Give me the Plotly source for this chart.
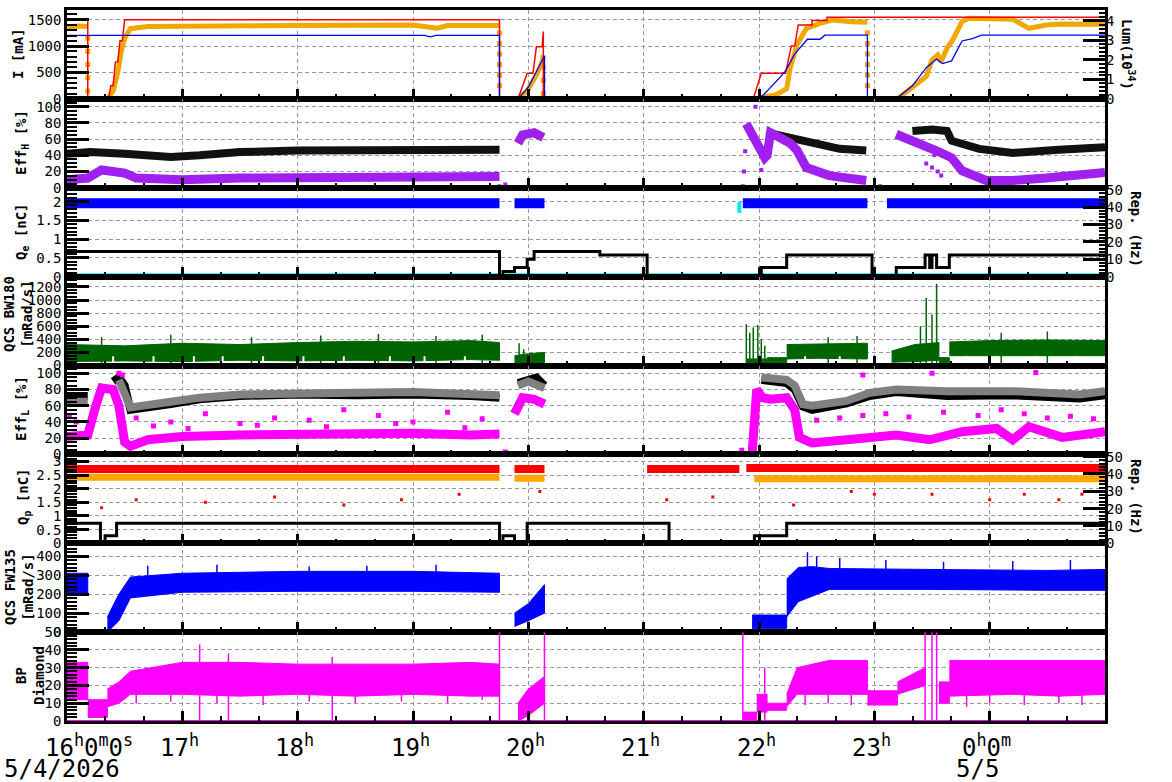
import plotly.graph_objects as go

FONT = "DejaVu Sans Mono"

# ---------------- data (time in hours since 0:00 of 5/4/2026; 24+ = 5/5) ----------------
# Panel 1: currents [mA] (red, orange) and luminosity [1e34] (blue)
ler_t = [16.00, 16.18, 16.18, 16.36, 16.38, 16.40, 16.42, 16.44, 16.46, 16.48, 16.50, 19.75, 19.75,
         19.91, 19.96, 19.99, 20.04, 20.07, 20.12, 20.13, 20.13, 21.95, 22.02, 22.23, 22.28, 22.31,
         22.34, 22.46, 22.46, 22.59, 22.59, 25.00]
ler_v = [1500, 1500, 0, 0, 250, 250, 700, 700, 1100, 1100, 1500, 1500, 0,
         0, 300, 485, 485, 990, 990, 1275, 0, 0, 484, 484, 1003, 1003,
         1401, 1401, 1483, 1483, 1545, 1545]
her_t = [16.00, 16.10, 16.18, None, 16.35, 16.40, 16.44, 16.47, 16.50, 16.55, 16.70, 17.00, 18.00, 19.00,
         19.15, 19.21, 19.30, 19.75, None, 19.91, 19.99, 20.07, 20.12, 20.13, None,
         21.96, 22.15, 22.24, 22.27, 22.33, 22.41, 22.53, 22.64, 22.80, 22.94, None,
         23.20, 23.33, 23.45, 23.50, 23.55, 23.58, 23.63, 23.68, 23.76, 23.82, 24.20, 24.34, 24.49,
         24.63, 25.00]
her_v = [1360, 1380, 1370, None, 0, 150, 500, 900, 1150, 1330, 1370, 1380, 1390, 1400,
         1370, 1340, 1390, 1390, None, 0, 150, 450, 700, 830, None,
         0, 80, 195, 580, 1027, 1337, 1432, 1496, 1460, 1450, None,
         0, 231, 422, 738, 833, 706, 958, 1117, 1464, 1527, 1510, 1337, 1401,
         1420, 1413]
her_drop_t = [16.18, 16.18, 16.18, 16.18, 16.18, 19.75, 19.75, 19.75, 19.75, 19.75, 19.75,
              20.13, 20.13, 20.13, 22.94, 22.94, 22.94, 22.94, 22.94, 22.94]
her_drop_v = [1150, 900, 650, 400, 150, 1250, 1050, 850, 650, 450, 250,
              600, 350, 100, 1250, 1050, 850, 650, 450, 250]
lum_t = [16.00, 19.10, 19.15, 19.20, 19.75, 19.75, 19.91, 20.00, 20.14, 20.14, 21.96, 22.03, 22.18,
         22.23, 22.31, 22.42, 22.53, 22.57, 22.94, 22.94, 23.19, 23.33, 23.45, 23.54, 23.59, 23.67,
         23.76, 23.85, 23.93, 25.00]
lum_v = [3.26, 3.26, 3.18, 3.26, 3.26, 0, 0, 0.6, 2.2, 0, 0, 0.15, 1.09,
         1.44, 2.31, 3.06, 3.06, 3.27, 3.27, 0, 0, 0.67, 1.60, 2.04, 1.81, 1.95,
         2.97, 3.09, 3.27, 3.27]

# Panel 2: Eff_H [%]
effh_k_t = [16.00, 16.20, 16.50, 16.90, 17.15, 17.50, 18.00, 18.50, 19.00, 19.50, 19.75, None,
            22.07, 22.27, 22.46, 22.70, 22.93, None,
            23.33, 23.50, 23.63, 23.67, 23.91, 24.20, 24.60, 25.00]
effh_k_v = [42, 44, 42, 38, 40, 44, 46, 46, 47, 47, 47, None,
            68, 62, 54, 48, 46, None,
            70, 72, 70, 58, 48, 43, 47, 50]
effh_p_t = [16.00, 16.18, 16.30, 16.50, 16.60, 17.00, 17.50, 18.00, 18.50, 19.00, 19.50, 19.75, None,
            19.91, 19.95, 20.05, 20.13, None,
            21.89, 21.98, 22.05, 22.07, 22.10, 22.27, 22.33, 22.41, 22.61, 22.93, None,
            23.19, 23.33, 23.50, 23.55, 23.67, 23.76, 23.97, 24.20, 24.49, 25.00]
effh_p_v = [10, 12, 22, 18, 12, 10, 12, 12, 13, 14, 14, 14, None,
            55, 65, 68, 62, None,
            79, 55, 37, 40, 68, 55, 46, 25, 15, 9, None,
            66, 58, 50, 45, 37, 21, 9, 9, 12, 19]
effh_ps_t = [19.75, 19.80, 21.86, 21.87, 21.88, 22.02, 23.05, 23.45, 23.50, 23.52, 23.55, 23.58, 21.97]
effh_ps_v = [2, 4, 2, 20, 45, 22, 2, 30, 25, 40, 20, 15, 100]

# Panel 3: Q_e [nC] (blue), repetition [Hz] (black), Q_e 2nd bunch (cyan)
qe_t = [16.00, 19.75, None, 19.88, 20.14, None, 21.86, 22.94, None, 23.11, 25.00]
qe_v = [1.96, 1.96, None, 1.96, 1.96, None, 1.96, 1.96, None, 1.96, 1.96]
repe_t = [16.00, 19.75, 19.75, 19.78, 19.78, 19.88, 19.88, 19.99, 19.99, 20.05, 20.05, 20.62, 20.62,
          21.03, 21.03, 22.02, 22.02, 22.24, 22.24, 22.98, 22.98, 23.19, 23.19, 23.44, 23.44, 23.48,
          23.48, 23.50, 23.50, 23.54, 23.54, 23.65, 23.65, 25.00]
repe_v = [14.5, 14.5, 0, 0, 3, 3, 5.3, 5.3, 10, 10, 14.5, 14.5, 12.5,
          12.5, 0, 0, 5.3, 5.3, 12.5, 12.5, 0, 0, 5.3, 5.3, 12.5, 12.5,
          5.3, 5.3, 12.5, 12.5, 5.3, 5.3, 12.5, 12.5]
qe2_t = [16.00, 25.00, None, 21.83, 21.83]
qe2_v = [0.04, 0.04, None, 1.70, 2.00]

# Panel 4: QCS BW180 [mRad/s] envelope
bw_t = [16.00, 16.50, 17.00, 17.50, 18.00, 18.50, 19.00, 19.50, 19.75, None,
        19.88, 20.00, 20.14, None,
        21.89, 22.07, None, 22.07, 22.24, None, 22.24, 22.50, 22.94, None,
        23.15, 23.35, 23.56, None, 23.56, 23.65, None, 23.65, 24.00, 24.50, 25.00]
bw_lo = [60, 70, 60, 80, 70, 80, 70, 90, 80, None,
         20, 30, 40, None,
         0, 0, None, 20, 20, None, 100, 110, 100, None,
         50, 60, 80, None, 20, 20, None, 150, 160, 150, 150]
bw_hi = [320, 300, 340, 320, 350, 370, 360, 380, 350, None,
         150, 180, 200, None,
         100, 100, None, 120, 120, None, 320, 330, 340, None,
         220, 320, 350, None, 120, 120, None, 360, 380, 390, 380]
bw_spk_t = [16.30, 16.90, 17.60, 18.20, 18.70, 19.20, 19.60, 19.92, 19.96, 21.89, 21.92, 21.95,
            21.99, 22.02, 22.05, 22.60, 22.85, 23.40, 23.45, 23.50, 23.54, 24.10, 24.50]
bw_spk_v = [430, 470, 430, 460, 480, 450, 470, 340, 250, 630, 500, 580,
            620, 400, 300, 430, 450, 600, 1030, 780, 1250, 500, 520]
bw_dip_t = [16.40, 16.75, 17.10, 17.35, 17.70, 18.05, 18.40, 18.80, 19.10, 19.45,
            22.40, 22.70, 23.80, 24.05, 24.40, 24.75]
bw_dip_v = [0, 0, 0, 0, 0, 0, 0, 0, 0, 0, 0, 0, 0, 0, 0, 0]

# Panel 5: Eff_L [%]
effl_k_t = [16.00, 16.18, None, 16.40, 16.45, 16.50, 16.55, 16.90, 17.15, 17.50, 18.00, 18.50, 19.00,
            19.50, 19.75, None, 19.91, 19.99, 20.07, 20.14, None,
            22.02, 22.24, 22.31, 22.38, 22.46, 22.76, 22.96, 23.19, 23.63, 24.20, 24.78, 25.00]
effl_k_v = [72, 72, None, 90, 95, 85, 55, 62, 68, 72, 74, 73, 74,
            72, 70, None, 88, 92, 95, 85, None,
            92, 88, 80, 59, 55, 63, 72, 77, 72, 73, 69, 73]
effl_g_t = [16.00, 16.18, None, 16.45, 16.55, 16.90, 17.15, 17.50, 18.00, 18.50, 19.00, 19.50, 19.75,
            None, 19.91, 20.00, 20.14, None,
            22.02, 22.24, 22.31, 22.38, 22.46, 22.76, 22.96, 23.19, 23.63, 24.20, 24.78, 25.00]
effl_g_v = [65, 65, None, 92, 58, 65, 70, 74, 76, 76, 77, 75, 73,
            None, 85, 90, 82, None,
            95, 92, 85, 62, 60, 66, 76, 80, 78, 78, 74, 78]
effl_m_t = [16.00, 16.18, 16.25, 16.30, 16.40, 16.45, 16.50, 16.55, 16.70, 17.00, 17.50, 18.00, 18.50,
            19.00, 19.50, 19.75, None, 19.88, 19.95, 20.05, 20.14, None,
            21.94, 21.98, 22.03, 22.10, 22.24, 22.31, 22.35, 22.46, 22.76, 22.98, 23.19, 23.48, 23.76,
            24.06, 24.20, 24.34, 24.63, 25.00]
effl_m_v = [22, 24, 60, 82, 80, 60, 15, 10, 18, 22, 24, 25, 25,
            26, 24, 25, None, 50, 70, 68, 62, None,
            0, 80, 70, 68, 70, 55, 21, 14, 18, 20, 24, 18, 28,
            32, 18, 34, 21, 28]
effl_ms_t = [16.02, 16.08, 16.45, 16.48, 16.60, 16.90, 17.20, 17.50, 17.80, 18.10, 18.40, 18.70, 19.00,
             19.30, 19.60, 22.50, 22.70, 22.90, 23.10, 23.30, 23.60, 23.90, 24.10, 24.30, 24.50, 24.70,
             24.90, 22.90, 23.50, 24.40, 21.85, 19.80, 21.98, 16.75, 17.05, 17.65, 18.25, 18.85, 19.45]
effl_ms_v = [48, 40, 100, 98, 45, 40, 50, 38, 45, 42, 55, 48, 40,
             52, 44, 42, 45, 48, 50, 46, 52, 48, 55, 50, 45, 47,
             44, 98, 100, 101, 5, 3, 40, 35, 32, 36, 34, 38, 33]
effl_m0_t = [22.05, 25.00]
effl_m0_v = [0.4, 0.4]

# Panel 6: Q_p [nC] (red, orange), repetition [Hz] (black)
qpr_t = [16.00, 19.75, None, 19.88, 20.14, None, 21.03, 21.83, None, 21.89, 25.00]
qpr_v = [2.72, 2.72, None, 2.72, 2.72, None, 2.72, 2.72, None, 2.76, 2.76]
qpo_t = [16.00, 19.75, None, 19.88, 20.14, None, 21.96, 25.00]
qpo_v = [2.42, 2.42, None, 2.38, 2.38, None, 2.37, 2.37]
qpo0_t = [16.00, 25.00]
qpo0_v = [0.03, 0.03]
qps_t = [16.30, 16.60, 17.20, 17.80, 18.40, 18.90, 19.40, 20.10, 21.20, 21.60, 22.30, 22.80, 23.00,
         23.50, 24.00, 24.30, 24.60, 24.80]
qps_v = [1.30, 1.60, 1.50, 1.70, 1.40, 1.60, 1.80, 1.90, 1.60, 1.70, 1.40, 1.90, 1.80,
         1.80, 1.60, 1.80, 1.60, 1.80]
repp_t = [16.00, 16.29, 16.29, 16.33, 16.33, 16.43, 16.43, 19.75, 19.75, 19.78, 19.78, 19.88, 19.88,
          19.99, 19.99, 21.22, 21.22, 21.96, 21.96, 22.24, 22.24, 25.00]
repp_v = [11.6, 11.6, 0, 0, 4.4, 4.4, 11.6, 11.6, 0, 0, 4.4, 4.4, 0,
          0, 11.6, 11.6, 0, 0, 4.4, 4.4, 11.6, 11.6]

# Panel 7: QCS FW135 [mRad/s] envelope
fw_t = [16.00, 16.18, None, 16.35, 16.45, 16.55, 17.00, 18.00, 19.00, 19.75, None,
        19.88, 20.00, 20.14, None, 21.94, 22.24, None, 22.24, 22.34, 22.46, 22.61, 23.50, 24.50, 25.00]
fw_lo = [200, 200, None, 0, 60, 180, 210, 215, 215, 210, None,
         30, 60, 100, None, 20, 20, None, 80, 160, 190, 225, 225, 220, 220]
fw_hi = [310, 310, None, 80, 200, 290, 310, 320, 320, 310, None,
         100, 150, 250, None, 90, 90, None, 280, 340, 345, 335, 330, 325, 330]
fw_spk_t = [16.70, 17.30, 18.10, 18.60, 19.20, 22.42, 22.50, 22.70, 23.10, 23.60, 24.20, 24.70]
fw_spk_v = [350, 355, 345, 350, 355, 420, 400, 390, 380, 370, 375, 380]
fw0_t = [16.00, 25.00]
fw0_v = [0, 0]

# Panel 8: BP Diamond envelope
bp_t = [16.00, 16.18, None, 16.18, 16.35, None, 16.35, 16.45, 16.55, 17.00, 17.50, 18.00, 18.50,
        19.00, 19.50, 19.75, None, 19.91, 20.00, 20.14, None, 21.86, 21.98, None, 21.98, 22.07,
        None, 22.07, 22.24, None, 22.24, 22.33, 22.60, 22.94, None, 22.94, 23.20, None,
        23.20, 23.44, None, 23.56, 23.65, None, 23.65, 24.20, 24.60, 25.00]
bp_lo = [12, 12, None, 2, 2, None, 8, 10, 15, 15, 14, 15, 14,
         15, 14, 14, None, 0, 3, 10, None, 0, 0, None, 5, 5,
         None, 6, 6, None, 8, 15, 15, 15, None, 9, 9, None,
         15, 20, None, 10, 10, None, 14, 15, 14, 15]
bp_hi = [33, 33, None, 12, 12, None, 18, 22, 28, 33, 33, 32, 32,
         32, 33, 32, None, 10, 18, 25, None, 5, 5, None, 15, 15,
         None, 10, 10, None, 15, 30, 34, 34, None, 17, 17, None,
         22, 30, None, 22, 22, None, 34, 34, 34, 34]
bp_spk_t = [17.15, 17.40, 18.30, 19.75, 20.14, 21.86, 22.05, 23.44, 23.50, 23.54]
bp_spk_v = [43, 38, 36, 50, 50, 50, 30, 50, 50, 50]
bp_dip_t = [16.60, 16.90, 17.30, 17.70, 18.10, 18.50, 18.90, 19.30, 19.60,
            22.40, 22.60, 22.80, 23.80, 24.00, 24.30, 24.60, 24.80]
bp_dip_v = [10, 11, 10, 9, 11, 10, 11, 10, 12, 9, 10, 9, 8, 10, 9, 10, 9]
bp0_t = [16.00, 25.00]
bp0_v = [0, 0]

# axis ticks
hour_ticks = [16, 17, 18, 19, 20, 21, 22, 23, 24]
hour_labels = ["16<sup>h</sup>0<sup>m</sup>0<sup>s</sup>", "17<sup>h</sup>", "18<sup>h</sup>",
               "19<sup>h</sup>", "20<sup>h</sup>", "21<sup>h</sup>", "22<sup>h</sup>",
               "23<sup>h</sup>", "0<sup>h</sup>0<sup>m</sup>"]
date_labels = [(16, "5/4/2026"), (24, "5/5")]

# ---------------- figure ----------------
fig = go.Figure()
N = 8


def ax(i):
    return ("x" if i == 1 else f"x{i}"), ("y" if i == 1 else f"y{i}")


def line(x, y, color, width, i, yref=None, dash=None):
    xa, ya = ax(i)
    fig.add_trace(go.Scatter(x=x, y=y, mode="lines", xaxis=xa, yaxis=yref or ya,
                             line=dict(color=color, width=width, dash=dash),
                             connectgaps=False, hoverinfo="skip", showlegend=False))


def pts(x, y, color, size, i, yref=None, symbol="square"):
    xa, ya = ax(i)
    fig.add_trace(go.Scatter(x=x, y=y, mode="markers", xaxis=xa, yaxis=yref or ya,
                             marker=dict(color=color, size=size, symbol=symbol, line=dict(width=0)),
                             hoverinfo="skip", showlegend=False))


def band(t, lo, hi, color, i):
    xa, ya = ax(i)
    seg_t, seg_lo, seg_hi = [], [], []
    segs = []
    for a, b, c in zip(t, lo, hi):
        if a is None:
            segs.append((seg_t, seg_lo, seg_hi))
            seg_t, seg_lo, seg_hi = [], [], []
        else:
            seg_t.append(a); seg_lo.append(b); seg_hi.append(c)
    segs.append((seg_t, seg_lo, seg_hi))
    for st, sl, sh in segs:
        fig.add_trace(go.Scatter(x=st + st[::-1], y=sh + sl[::-1], mode="lines", fill="toself",
                                 fillcolor=color, line=dict(color=color, width=1),
                                 xaxis=xa, yaxis=ya, hoverinfo="skip", showlegend=False))


def spikes(t, v, base, color, i, width=1.5):
    xs, ys = [], []
    for a, b in zip(t, v):
        xs += [a, a, None]
        ys += [base, b, None]
    line(xs, ys, color, width, i)


RED, ORANGE, BLUE = "#ff0000", "#f0a800", "#0000ff"
PURPLE, CYAN, GREEN = "#a020f0", "#00e8f0", "#006400"
MAGENTA, GREY, ORANGE2 = "#ff00ff", "#808080", "#ffa500"

# Panel 1
line(her_t, her_v, ORANGE, 5, 1)
pts(her_drop_t, her_drop_v, ORANGE, 5, 1)
line(lum_t, lum_v, BLUE, 1.3, 1, yref="y9")
line(ler_t, ler_v, RED, 1.5, 1)
# Panel 2
line(effh_k_t, effh_k_v, "#111111", 8, 2)
line(effh_p_t, effh_p_v, PURPLE, 9, 2)
pts(effh_ps_t, effh_ps_v, PURPLE, 4, 2)
# Panel 3
line(qe2_t, qe2_v, CYAN, 4, 3)
line(qe_t, qe_v, BLUE, 10, 3)
line(repe_t, repe_v, "#000000", 3, 3, yref="y10")
# Panel 4
band(bw_t, bw_lo, bw_hi, GREEN, 4)
spikes(bw_spk_t, bw_spk_v, 0, GREEN, 4)
spikes(bw_dip_t, bw_dip_v, 140, "white", 4, width=2)
# Panel 5
line(effl_m0_t, effl_m0_v, MAGENTA, 3, 5, dash="6px,4px")
line(effl_k_t, effl_k_v, "#000000", 8, 5)
line(effl_g_t, effl_g_v, GREY, 8, 5)
line(effl_m_t, effl_m_v, MAGENTA, 9, 5)
pts(effl_ms_t, effl_ms_v, MAGENTA, 5, 5)
# Panel 6
line(qpo0_t, qpo0_v, ORANGE2, 3, 6)
line(qpr_t, qpr_v, RED, 8, 6)
line(qpo_t, qpo_v, ORANGE2, 7, 6)
pts(qps_t, qps_v, RED, 3, 6)
line(repp_t, repp_v, "#000000", 3, 6, yref="y11")
# Panel 7
line(fw0_t, fw0_v, BLUE, 2, 7)
band(fw_t, fw_lo, fw_hi, BLUE, 7)
spikes(fw_spk_t, fw_spk_v, 250, BLUE, 7)
# Panel 8
line(bp0_t, bp0_v, MAGENTA, 2, 8)
band(bp_t, bp_lo, bp_hi, MAGENTA, 8)
spikes(bp_spk_t, bp_spk_v, 0, MAGENTA, 8)
spikes(bp_dip_t, bp_dip_v, 20, MAGENTA, 8)

# ---------------- layout ----------------
tickfont = dict(family=FONT, size=14, color="black")
GRID = "#9a9a9a"
GDASH = "4px,3px"
layout = dict(width=1172, height=782, margin=dict(l=67, r=67, t=10, b=61, pad=0, autoexpand=False),
              paper_bgcolor="white", plot_bgcolor="white", showlegend=False,
              font=dict(family=FONT, size=14, color="black"))

yspec = {
    1: dict(range=[0, 1684], dtick=500, minor=100),
    2: dict(range=[0, 109.7], dtick=20, minor=5),
    3: dict(range=[0, 2.37], dtick=0.5, minor=0.1),
    4: dict(range=[0, 1357], dtick=200, minor=50),
    5: dict(range=[0, 109.7], dtick=20, minor=5),
    6: dict(range=[0, 3.26], dtick=0.5, minor=0.1),
    7: dict(range=[0, 468], dtick=100, minor=20),
    8: dict(range=[0, 50.02], dtick=10, minor=2),
}
for i in range(1, N + 1):
    d0 = 1 - i / N
    d1 = 1 - (i - 1) / N
    xa_name = "xaxis" if i == 1 else f"xaxis{i}"
    ya_name = "yaxis" if i == 1 else f"yaxis{i}"
    layout[xa_name] = dict(
        range=[16, 25], anchor="y" if i == 1 else f"y{i}", matches=None if i == 1 else "x",
        tickmode="array", tickvals=hour_ticks, showticklabels=False, automargin=False,
        ticks="inside", ticklen=10, tickwidth=2.5, tickcolor="black",
        minor=dict(tickmode="linear", tick0=16, dtick=1 / 3, ticks="inside", ticklen=5,
                   tickwidth=1.5, tickcolor="black", showgrid=False),
        showgrid=True, gridcolor=GRID, griddash=GDASH, gridwidth=1,
        showline=True, linecolor="black", linewidth=2.5, mirror=True, zeroline=False)
    s = yspec[i]
    layout[ya_name] = dict(
        domain=[d0, d1], range=s["range"], anchor="x" if i == 1 else f"x{i}", automargin=False,
        tickmode="linear", tick0=0, dtick=s["dtick"], tickfont=tickfont,
        ticks="inside", ticklen=22, tickwidth=2.5, tickcolor="black",
        minor=dict(tickmode="linear", tick0=0, dtick=s["minor"], ticks="inside", ticklen=10,
                   tickwidth=1.5, tickcolor="black", showgrid=False),
        showgrid=True, gridcolor=GRID, griddash=GDASH, gridwidth=1,
        showline=True, linecolor="black", linewidth=2.5, mirror=True, zeroline=False)

rspec = {9: (1, [0, 4.56], 1, 0.2), 10: (3, [0, 51.1], 10, 2), 11: (6, [0, 51.3], 10, 2)}
for k, (p, rng, dt, mn) in rspec.items():
    layout[f"yaxis{k}"] = dict(
        overlaying="y" if p == 1 else f"y{p}", side="right", anchor="x" if p == 1 else f"x{p}",
        range=rng, tickmode="linear", tick0=0, dtick=dt, tickfont=tickfont, automargin=False,
        ticks="inside", ticklen=22, tickwidth=2.5, tickcolor="black",
        minor=dict(tickmode="linear", tick0=0, dtick=mn, ticks="inside", ticklen=6,
                   tickwidth=1.5, tickcolor="black"),
        showgrid=False, zeroline=False, showline=False)

fig.update_layout(**layout)

# ---------------- titles ----------------
PH = 782 - 71


def py(px_y):
    return (782 - 61 - px_y) / PH


left_titles = [
    ("<b>I [mA]</b>", 18, 54),
    ("<b>Eff<sub>H</sub> [%]</b>", 22, 143),
    ("<b>Q<sub>e</sub> [nC]</b>", 22, 232),
    ("<b>QCS BW180<br>[mRad/s]</b>", 18, 314),
    ("<b>Eff<sub>L</sub> [%]</b>", 22, 409),
    ("<b>Q<sub>p</sub> [nC]</b>", 24, 497),
    ("<b>QCS FW135<br>[mRad/s]</b>", 19, 587),
    ("<b>BP<br>Diamond</b>", 30, 676),
]
for txt, xp, yp in left_titles:
    fig.add_annotation(text=txt, xref="paper", yref="paper", x=0, y=py(yp), xshift=xp - 67,
                       textangle=-90, showarrow=False, xanchor="center", yanchor="middle",
                       font=dict(family=FONT, size=14, color="black"))
right_titles = [
    ("<b>Lum(10<sup>34</sup>)</b>", 1128, 54),
    ("<b>Rep. (Hz)</b>", 1136, 229),
    ("<b>Rep. (Hz)</b>", 1136, 497),
]
for txt, xp, yp in right_titles:
    fig.add_annotation(text=txt, xref="paper", yref="paper", x=1, y=py(yp), xshift=xp - 1105,
                       textangle=90, showarrow=False, xanchor="center", yanchor="middle",
                       font=dict(family=FONT, size=14, color="black"))

for hv, lab in zip(hour_ticks, hour_labels):
    fig.add_annotation(text=lab, xref="x8", yref="paper", x=hv, y=0, yshift=-25,
                       xshift=22 if hv == 16 else -3, showarrow=False,
                       xanchor="center", yanchor="middle",
                       font=dict(family=FONT, size=24, color="black"))
for hv, lab in date_labels:
    if hv == 16:
        fig.add_annotation(text=lab, xref="paper", yref="paper", x=0, y=0, xshift=-65, yshift=-48,
                           showarrow=False, xanchor="left", yanchor="middle",
                           font=dict(family=FONT, size=24, color="black"))
    else:
        fig.add_annotation(text=lab, xref="x8", yref="paper", x=hv, y=0, xshift=-12, yshift=-48,
                           showarrow=False, xanchor="center", yanchor="middle",
                           font=dict(family=FONT, size=24, color="black"))

fig.write_html("out.html")
